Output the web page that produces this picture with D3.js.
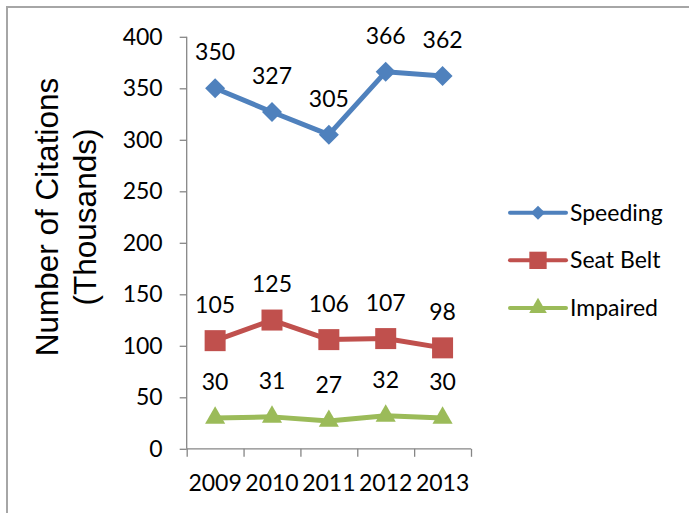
<!DOCTYPE html>
<html>
<head>
<meta charset="utf-8">
<script src="https://cdn.jsdelivr.net/npm/d3@7"></script>
<style>
  body { margin: 0; background: #fff; }
  svg { display: block; }
</style>
</head>
<body>
<div id="chart"></div>
<script>
// data
var years = ["2009", "2010", "2011", "2012", "2013"];
var speeding = [350, 327, 305, 366, 362];
var seatBelt = [105, 125, 106, 107, 98];
var impaired = [30, 31, 27, 32, 30];
var yTicks = [0, 50, 100, 150, 200, 250, 300, 350, 400];

var series = [
  {name: "Speeding", values: speeding, color: "#4F81BD", symbol: "diamond"},
  {name: "Seat Belt", values: seatBelt, color: "#C0504D", symbol: "square"},
  {name: "Impaired", values: impaired, color: "#9BBB59", symbol: "triangle"}
];

var W = 689, H = 513;
var plot = {left: 186.7, right: 471, top: 36.8, bottom: 448.8};
var numFont = "Lato, 'Open Sans', sans-serif";
var numSize = 23;

var svg = d3.select("#chart")
  .append("svg")
  .attr("width", W)
  .attr("height", H);

// outer chart border
svg.append("rect")
  .attr("x", 7).attr("y", 7)
  .attr("width", 720).attr("height", 540)
  .attr("fill", "none")
  .attr("stroke", "#a6a6a6")
  .attr("stroke-width", 2);

var x = d3.scaleBand()
  .domain(years)
  .range([plot.left, plot.right])
  .padding(0);

// boundary ticks between categories
var xEdge = d3.scaleLinear()
  .domain([0, years.length])
  .range([plot.left, plot.right]);

var y = d3.scaleLinear()
  .domain([0, 400])
  .range([plot.bottom, plot.top]);

// Y axis
var yAxis = svg.append("g")
  .attr("transform", "translate(" + plot.left + ",0)")
  .call(d3.axisLeft(y).tickValues(yTicks).tickSize(7).tickPadding(17));
yAxis.selectAll("path, line").attr("stroke", "#868686").attr("stroke-width", 1.3);
yAxis.select(".domain").attr("d", "M0," + plot.top + "V" + plot.bottom);
yAxis.selectAll("text")
  .attr("font-family", numFont)
  .attr("font-size", numSize)
  .attr("fill", "#000");

// X axis ticks
var xTickG = svg.append("g")
  .attr("transform", "translate(0," + plot.bottom + ")")
  .call(d3.axisBottom(xEdge).ticks(years.length).tickSize(8).tickFormat(""));
xTickG.selectAll("path, line").attr("stroke", "#868686").attr("stroke-width", 1.3);
xTickG.select(".domain").attr("d", "M" + plot.left + ",0H" + plot.right);

// X labels
var xLab = svg.append("g")
  .attr("transform", "translate(0," + plot.bottom + ")")
  .call(d3.axisBottom(x).tickSize(0).tickPadding(26));
xLab.select(".domain").remove();
xLab.selectAll("text")
  .attr("font-family", numFont)
  .attr("font-size", numSize)
  .attr("fill", "#000");

// Y title
var yTitle = svg.append("text")
  .attr("transform", "translate(47,217) rotate(-90)")
  .attr("text-anchor", "middle")
  .attr("font-family", "'Liberation Sans', Arial, sans-serif")
  .attr("font-size", 31.5)
  .attr("fill", "#000");
yTitle.append("tspan").attr("x", 0).attr("dy", "0.35em").text("Number of Citations");
yTitle.append("tspan").attr("x", 0).attr("dy", 38).text("(Thousands)");

function cx(i) { return x(years[i]) + x.bandwidth() / 2; }

function markerPath(type, big) {
  if (type === "diamond") return d3.symbol(d3.symbolSquare, big ? 200 : 100)();
  if (type === "square") return d3.symbol(d3.symbolSquare, big ? 441 : 300)();
  return d3.symbol(d3.symbolTriangle, big ? 175 : 135)();
}

var line = d3.line()
  .x(function(d, i) { return cx(i); })
  .y(function(d) { return y(d); });

series.forEach(function(s) {
  var g = svg.append("g");
  g.append("path")
    .datum(s.values)
    .attr("d", line)
    .attr("fill", "none")
    .attr("stroke", s.color)
    .attr("stroke-width", 5)
    .attr("stroke-linejoin", "round")
    .attr("stroke-linecap", "round");

  g.selectAll(".mark")
    .data(s.values)
    .enter()
    .append("path")
    .attr("d", markerPath(s.symbol, true))
    .attr("transform", function(d, i) {
      return "translate(" + cx(i) + "," + y(d) + ")" + (s.symbol === "diamond" ? " rotate(45)" : "");
    })
    .attr("fill", s.color);

  g.selectAll(".lbl")
    .data(s.values)
    .enter()
    .append("text")
    .attr("x", function(d, i) { return cx(i); })
    .attr("y", function(d) { return y(d) - 28; })
    .attr("text-anchor", "middle")
    .attr("font-family", numFont)
    .attr("font-size", numSize)
    .attr("fill", "#000")
    .text(function(d) { return d; });
});

// legend
var legend = svg.append("g");
var legendY = d3.scalePoint()
  .domain(series.map(function(s) { return s.name; }))
  .range([212.7, 308]);

series.forEach(function(s) {
  var ly = legendY(s.name);
  legend.append("line")
    .attr("x1", 510).attr("x2", 566)
    .attr("y1", ly).attr("y2", ly)
    .attr("stroke", s.color)
    .attr("stroke-width", 4)
    .attr("stroke-linecap", "round");
  legend.append("path")
    .attr("d", markerPath(s.symbol, false))
    .attr("transform", "translate(538," + ly + ")" + (s.symbol === "diamond" ? " rotate(45)" : ""))
    .attr("fill", s.color);
  legend.append("text")
    .attr("x", 570)
    .attr("y", ly)
    .attr("dy", "0.35em")
    .attr("font-family", numFont)
    .attr("font-size", numSize)
    .attr("fill", "#000")
    .text(s.name);
});
</script>
</body>
</html>
